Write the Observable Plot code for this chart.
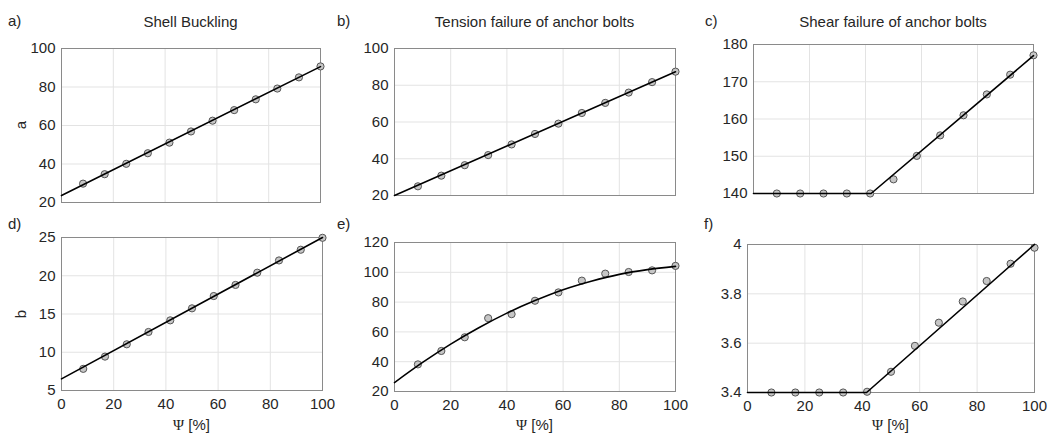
<!DOCTYPE html>
<html>
<head>
<meta charset="utf-8">
<script src="https://cdn.jsdelivr.net/npm/d3@7"></script>
<script src="https://cdn.jsdelivr.net/npm/@observablehq/plot@0.6"></script>
<style>
  body { margin: 0; background: #fff; font-family: "Liberation Sans", Arial, sans-serif; }
  #root { position: relative; width: 1048px; height: 435px; overflow: hidden; background: #fff; }
  .lbl { position: absolute; font-size: 15px; color: #262626; white-space: nowrap; line-height: 1; transform: translate(-50%, -50%); }
  .corner { position: absolute; font-size: 15px; color: #262626; white-space: nowrap; line-height: 1; }
  .plotbox { position: absolute; }
  .serif { font-family: "Liberation Serif", "DejaVu Serif", serif; }
</style>
</head>
<body>
<div id="root"></div>
<script>
// ---- data ----
const psi = [8.33, 16.67, 25, 33.33, 41.67, 50, 58.33, 66.67, 75, 83.33, 91.67, 100];

const shellA   = [29.8, 34.7, 40.1, 45.6, 51.1, 56.9, 62.5, 68.0, 73.6, 79.2, 85.0, 90.7];
const shellAFitX = [0, 100];
const shellAFit  = [23.6, 90.6];

const tensionA = [25.0, 30.8, 36.5, 42.0, 47.8, 53.5, 59.1, 64.9, 70.4, 76.0, 81.7, 87.4];
const tensionAFitX = [0, 100];
const tensionAFit  = [20.0, 87.3];

const shearA   = [140, 140, 140, 140, 140, 143.8, 150.1, 155.6, 161.0, 166.6, 171.9, 177.1];
const shearAFitX = [0, 42, 100];
const shearAFit  = [140, 140, 177];

const shellB   = [7.83, 9.43, 11.04, 12.65, 14.17, 15.74, 17.35, 18.8, 20.4, 22.0, 23.4, 24.96];
const shellBFitX = [0, 100];
const shellBFit  = [6.52, 25.0];

const tensionB = [38.2, 47.2, 56.4, 69.2, 71.9, 80.9, 86.5, 94.4, 99.1, 100.2, 101.3, 104.3];
const tensionBFitX = [0, 10, 20, 30, 40, 50, 60, 70, 80, 90, 100];
const tensionBFit  = [26.0, 39.5, 51.8, 62.8, 72.6, 81.0, 88.3, 94.0, 98.6, 101.8, 104.0];

const shearB   = [3.40, 3.40, 3.40, 3.40, 3.403, 3.484, 3.589, 3.683, 3.769, 3.852, 3.922, 3.987];
const shearBFitX = [0, 41.5, 100];
const shearBFit  = [3.4, 3.4, 4.0];

const xTicks = [0, 20, 40, 60, 80, 100];
const yTicksA1 = [20, 40, 60, 80, 100];
const yTicksA2 = [20, 40, 60, 80, 100];
const yTicksA3 = [140, 150, 160, 170, 180];
const yTicksB1 = [5, 10, 15, 20, 25];
const yTicksB2 = [20, 40, 60, 80, 100, 120];
const yTicksB3 = [3.4, 3.6, 3.8, 4];

const titles = ["Shell Buckling", "Tension failure of anchor bolts", "Shear failure of anchor bolts"];
const letters = ["a)", "b)", "c)", "d)", "e)", "f)"];
const rowLabels = ["a", "b"];
const xLabel = "[%]";

// ---- layout ----
const panels = [
  {x0: 61,  x1: 320,  y0: 48,  y1: 202, py: shellA,   lx: shellAFitX,   ly: shellAFit,   yd: [20, 100],  yt: yTicksA1, showX: false},
  {x0: 394, x1: 675,  y0: 48,  y1: 195, py: tensionA, lx: tensionAFitX, ly: tensionAFit, yd: [20, 100],  yt: yTicksA2, showX: false},
  {x0: 753, x1: 1033, y0: 44,  y1: 193, py: shearA,   lx: shearAFitX,   ly: shearAFit,   yd: [140, 180], yt: yTicksA3, showX: false},
  {x0: 61,  x1: 322,  y0: 237, y1: 390, py: shellB,   lx: shellBFitX,   ly: shellBFit,   yd: [5, 25],    yt: yTicksB1, showX: true},
  {x0: 394, x1: 675,  y0: 242, y1: 391, py: tensionB, lx: tensionBFitX, ly: tensionBFit, yd: [20, 120],  yt: yTicksB2, showX: true, curve: "catmull-rom"},
  {x0: 747, x1: 1034, y0: 244, y1: 392, py: shearB,   lx: shearBFitX,   ly: shearBFit,   yd: [3.4, 4],   yt: yTicksB3, showX: true}
];

const root = document.getElementById("root");
const FONT = '"Liberation Sans", Arial, sans-serif';
const ml = 50, mr = 12, mt = 8, mb = 30;

panels.forEach(p => {
  const W = p.x1 - p.x0, H = p.y1 - p.y0;
  const pts = psi.map((x, i) => ({x, y: p.py[i]}));
  const fit = p.lx.map((x, i) => ({x, y: p.ly[i]}));
  const marks = [
    Plot.gridX([20, 40, 60, 80], {stroke: "#e3e3e3", strokeOpacity: 1}),
    Plot.gridY(p.yt.slice(1, -1), {stroke: "#e3e3e3", strokeOpacity: 1}),
    Plot.frame({stroke: "#8a8a8a", strokeWidth: 1}),
    Plot.axisY({ticks: p.yt, tickSize: 0, tickPadding: 6, label: null,
      tickFormat: d => String(+d.toFixed(2))}),
    Plot.dot(pts, {x: "x", y: "y", r: 3.6, fill: "#c6c6c6", stroke: "#555", strokeWidth: 1}),
    Plot.line(fit, {x: "x", y: "y", stroke: "#000", strokeWidth: 1.6, curve: p.curve || "linear"})
  ];
  if (p.showX) marks.push(Plot.axisX({ticks: xTicks, tickSize: 0, tickPadding: 8, label: null}));
  const chart = Plot.plot({
    width: W + ml + mr, height: H + mt + mb,
    marginLeft: ml, marginRight: mr, marginTop: mt, marginBottom: mb,
    style: {fontFamily: FONT, fontSize: "15px", color: "#262626", background: "transparent", overflow: "visible"},
    x: {domain: [0, 100], axis: null},
    y: {domain: p.yd, axis: null},
    marks
  });
  const box = document.createElement("div");
  box.className = "plotbox";
  box.style.left = (p.x0 - ml) + "px";
  box.style.top = (p.y0 - mt) + "px";
  box.appendChild(chart);
  root.appendChild(box);
});

function addLabel(text, cx, cy, cls, rotate, html) {
  const d = document.createElement("div");
  d.className = cls;
  if (html) d.innerHTML = html; else d.textContent = text;
  if (cls === "lbl") {
    d.style.left = cx + "px"; d.style.top = cy + "px";
    if (rotate) d.style.transform = "translate(-50%, -50%) rotate(-90deg)";
  } else {
    d.style.left = cx + "px"; d.style.top = cy + "px";
  }
  root.appendChild(d);
}

// titles
panels.slice(0, 3).forEach((p, i) => addLabel(titles[i], (p.x0 + p.x1) / 2, 21, "lbl"));
// panel letters
const letterPos = [[8, 13], [337, 13], [705, 13], [8, 216], [337, 216], [704, 216]];
letters.forEach((t, i) => addLabel(t, letterPos[i][0], letterPos[i][1], "corner"));
// row labels
addLabel(rowLabels[0], 20, (panels[0].y0 + panels[0].y1) / 2, "lbl", true);
addLabel(rowLabels[1], 20, (panels[3].y0 + panels[3].y1) / 2, "lbl", true);
// x labels
panels.slice(3).forEach(p => addLabel(null, (p.x0 + p.x1) / 2, 425, "lbl", false,
  '<span class="serif">\u03A8</span> ' + xLabel));
</script>
</body>
</html>
